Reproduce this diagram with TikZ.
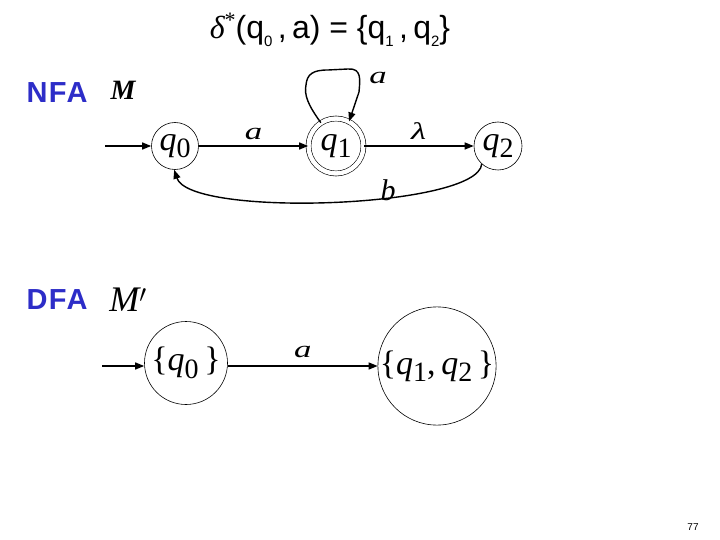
\documentclass[tikz,border=0pt]{standalone}
\usepackage{fontspec}
\setmainfont{Liberation Serif}
\newfontfamily\sansf{Liberation Sans}
\newfontfamily\sansw[LetterSpace=5]{Liberation Sans}
\usetikzlibrary{arrows.meta}
\definecolor{lblue}{RGB}{45,45,200}
\newcommand{\stq}[1]{{\itshape q}\raisebox{-0.22em}{\fontsize{28}{28}\selectfont #1}}
\newcommand{\wide}[1]{\scalebox{1.45}[1]{#1}}
\begin{document}
\begin{tikzpicture}[x=1pt,y=-1pt,
  st/.style={circle,draw,line width=0.6pt,inner sep=0pt,font=\fontsize{34}{34}\selectfont},
  acc/.style={st,double,double distance=4.4pt},
  tr/.style={line width=1.4pt,-{Triangle[length=9pt,width=7pt]}},
  lab/.style={font=\fontsize{24}{24}\selectfont\itshape},
  head/.style={font=\fontsize{29}{29}\selectfont\sansw\bfseries,text=lblue}]
\useasboundingbox (0,0) rectangle (720,540);
% title
\node (title) at (330,30) {\fontsize{32}{32}\selectfont{\itshape δ}\raisebox{0.35em}{\fontsize{22}{22}\selectfont *}\sansf(q\raisebox{-0.25em}{\fontsize{15}{15}\selectfont 0}\,,\,a) = \{q\raisebox{-0.25em}{\fontsize{15}{15}\selectfont 1}\,,\,q\raisebox{-0.25em}{\fontsize{15}{15}\selectfont 2}\}};
% NFA
\node[head] (nfa) at (57,93) {NFA};
\node[font=\fontsize{28}{28}\selectfont\itshape\bfseries] (m) at (123,90) {M};
\node[st,minimum size=47pt] (q0) at (175,146) {\stq{0}};
\node[acc,minimum size=55pt] (q1) at (336,146) {\stq{1}};
\node[st,minimum size=48pt] (q2) at (498,146) {\stq{2}};
\coordinate (s0) at (105,146);
\draw[tr] (s0) -- (q0);
\draw[tr] (q0) -- node[lab,above=2pt] (la) {\wide{a}} (q1);
\draw[tr] (q1) -- node[lab,above=2pt] (ll) {\wide{λ}} (q2);
\draw[tr] (q1.123) .. controls (308,105) and (304,95) .. (306,85)
  .. controls (307,74) and (313,70) .. (328,70)
  -- (348,69) .. controls (362,68) and (360,80) .. (359,92) -- (q1.62);
\node[lab] (la2) at (378,78) {\wide{a}};
\draw[tr] (q2.228) .. controls (478,208) and (190,218) .. (q0.268);
\node[font=\fontsize{30}{30}\selectfont\itshape] (lb) at (388,190) {b};
% DFA
\node[head] (dfa) at (57,300) {DFA};
\node[font=\fontsize{36}{36}\selectfont\itshape] (mp) at (128,300) {M$'$};
\node[st,minimum size=83pt] (d0) at (186,363) {\{\stq{0}\,\}};
\node[st,minimum size=106pt] (d1) at (437,366) {\{\stq{1},\,\stq{2}\,\}};
\coordinate (s1) at (102,366);
\draw[tr] (s1) -- (s1 -| d0.west);
\draw[tr] (d0.east |- s1) -- node[lab,above=4pt] (la3) {\wide{a}} (d1);
% page number
\node[font=\fontsize{10}{10}\selectfont\sansf] (pg) at (693,527) {77};
\end{tikzpicture}
\end{document}
